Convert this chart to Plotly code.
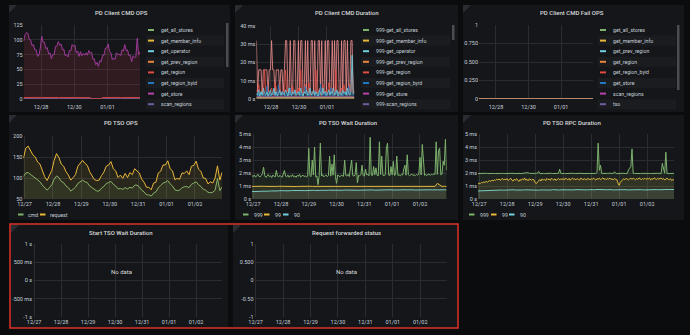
import pandas as pd
import plotly.graph_objects as go

# ---------------- data ----------------
START = "2021-12-26 23:00"
END = "2022-01-02 23:00"
T1 = pd.date_range(START, END, freq="1h")   # 169 hourly samples
T2 = pd.date_range(START, END, freq="2h")   # 85 two-hourly samples
TD = pd.date_range(START, END, freq="1D")   # 8 daily samples

TICKS_2D = ["2021-12-28", "2021-12-30", "2022-01-01"]
TICKS_1D = ["2021-12-27", "2021-12-28", "2021-12-29", "2021-12-30",
            "2021-12-31", "2022-01-01", "2022-01-02"]

# Panel 1: PD Client CMD OPS
cmd_ops_names = ["get_all_stores", "get_member_info", "get_operator", "get_prev_region",
                 "get_region", "get_region_byid", "get_store", "scan_regions"]
ops_get_store = [
    98, 109, 112, 111, 101, 100, 90, 92, 83, 83, 72, 74,
    86, 106, 96, 96, 85, 87, 76, 78, 68, 75, 75, 89,
    89, 97, 91, 93, 83, 84, 73, 75, 71, 82, 81, 92,
    89, 91, 78, 81, 72, 80, 73, 77, 74, 78, 74, 82,
    77, 79, 67, 68, 58, 62, 55, 65, 63, 74, 74, 86,
    86, 93, 80, 78, 66, 69, 67, 78, 75, 76, 73, 83,
    81, 92, 82, 83, 73, 74, 63, 73, 70, 71, 103, 75,
    80]
ops_get_region = [
    2.5, 2.6, 2.4, 2.7, 2.5, 2.6, 2.4, 2.5, 2.6, 2.5, 2.4, 2.6,
    2.7, 2.5, 2.6, 2.4, 2.5, 2.6, 2.5, 2.4, 2.6, 2.5, 2.7, 2.5,
    2.4, 2.6, 2.5, 2.5, 2.6, 2.4, 2.5, 2.6, 2.5, 2.4, 2.6, 2.5,
    2.5, 2.7, 2.4, 2.5, 2.6, 2.5, 2.4, 2.6, 2.5, 2.5, 2.6, 2.4,
    2.3, 0.4, 0.3, 0.4, 0.3, 0.4, 0.3, 0.3, 0.4, 2.5, 2.6, 2.5,
    2.4, 2.6, 2.5, 2.7, 2.5, 2.4, 2.6, 2.5, 2.5, 2.6, 2.4, 2.5,
    2.6, 2.5, 2.4, 2.6, 2.5, 2.7, 2.5, 2.4, 2.6, 2.5, 2.5, 2.6,
    2.5]
ops_get_all_stores = [0.1, 0.1, 0.1, 0.1, 0.1, 0.1, 0.1, 0.1]
ops_get_member_info = [0.2, 0.2, 0.2, 0.2, 0.2, 0.2, 0.2, 0.2]
ops_get_operator = [0.1, 0.1, 0.1, 0.1, 0.1, 0.1, 0.1, 0.1]
ops_get_prev_region = [0.5, 0.5, 0.5, 0.5, 0.5, 0.5, 0.5, 0.5]
ops_get_region_byid = [0.3, 0.3, 0.3, 0.3, 0.3, 0.3, 0.3, 0.3]
ops_scan_regions = [0.6, 0.6, 0.6, 0.6, 0.6, 0.6, 0.6, 0.6]

# Panel 2: PD Client CMD Duration (ms)
dur_names = ["999-get_all_stores", "999-get_member_info", "999-get_operator", "999-get_prev_region",
             "999-get_region", "999-get_region_byid", "999-get_store", "999-scan_regions"]
dur_tso = [
    32, 4, 16, 16, 16, 3, 16, 16, 16, 16, 4, 16,
    16, 32, 16, 16, 3, 16, 16, 16, 5, 16, 16, 3,
    16, 32, 32, 4, 3, 32, 5, 3, 32, 32, 4, 3,
    32, 4, 32, 32, 3, 4, 32, 5, 32, 3, 4, 32,
    32, 3, 32, 4, 3, 32, 32, 5, 32, 3, 4, 32,
    3, 32, 32, 4, 3, 32, 5, 32, 3, 32, 32, 4,
    3, 32, 4, 32, 32, 3, 32, 5, 3, 32, 32, 4,
    3]
dur_get_region = [
    5, 3, 8, 4, 3, 6, 2, 16, 4, 3, 5, 2,
    4, 6, 3, 2, 9, 5, 3, 4, 8, 3, 2, 5,
    3, 16, 4, 5, 2, 6, 3, 7, 4, 2, 5, 3,
    6, 3, 16, 4, 2, 5, 8, 3, 4, 9, 2, 4,
    3, 5, 2, 16, 4, 3, 6, 2, 5, 8, 3, 4,
    5, 2, 9, 3, 4, 6, 2, 3, 16, 5, 3, 4,
    2, 6, 3, 8, 4, 5, 2, 3, 8, 4, 16, 3,
    5]
dur_get_operator = [
    3, 2, 5, 1.5, 4, 2, 6, 3, 2, 4, 1.5, 3,
    5, 2, 3, 6, 2, 4, 1.5, 3, 5, 2, 4, 3,
    2, 5, 3, 1.5, 6, 3, 2, 4, 3, 5, 2, 3,
    4, 2, 6, 3, 1.5, 4, 3, 5, 2, 3, 6, 2,
    3, 5, 2, 4, 3, 1.5, 5, 3, 2, 6, 3, 4,
    2, 3, 5, 2, 4, 3, 6, 2, 3, 5, 1.5, 4,
    3, 2, 5, 3, 4, 2, 6, 3, 2, 4, 24, 3,
    4]
dur_get_region_byid = [
    2, 3.5, 1.5, 2.5, 4, 2, 3, 1.5, 2.5, 7, 2, 3.5,
    1.5, 3, 2.5, 4, 2, 3, 1.5, 8, 2.5, 3, 2, 4,
    3, 1.5, 2.5, 3.5, 2, 6, 1.5, 3, 2.5, 4, 2, 3,
    2.5, 4, 1.5, 3, 2, 3.5, 7, 2, 3, 1.5, 4, 2.5,
    2, 3, 4, 1.5, 2.5, 3, 2, 8, 3.5, 2, 3, 1.5,
    3.5, 2, 3, 2.5, 6, 1.5, 3, 2, 4, 2.5, 3, 2,
    2, 3.5, 1.5, 3, 2.5, 4, 2, 7, 3, 2.5, 3, 2,
    3]
dur_get_all_stores = [0.8, 0.8, 0.8, 0.8, 0.8, 0.8, 0.8, 0.8]
dur_get_member_info = [0.6, 0.6, 0.6, 0.6, 0.6, 0.6, 0.6, 0.6]
dur_get_prev_region = [1.0, 1.0, 1.0, 1.0, 1.0, 1.0, 1.0, 1.0]
dur_get_store = [1.2, 1.2, 1.2, 1.2, 1.2, 1.2, 1.2, 1.2]
dur_scan_regions = [0.9, 0.9, 0.9, 0.9, 0.9, 0.9, 0.9, 0.9]

# Panel 3: PD Client CMD Fail OPS
fail_names = ["get_all_stores", "get_member_info", "get_prev_region", "get_region",
              "get_region_byid", "get_store", "scan_regions", "tso"]
fail_zero = [0, 0, 0, 0, 0, 0, 0, 0]

# Panel 4: PD TSO OPS
tso_request = [
    147, 171, 176, 165, 155, 150, 138, 133, 116, 103, 94, 107,
    118, 142, 158, 149, 133, 128, 115, 107, 95, 101, 108, 128,
    134, 142, 135, 130, 115, 107, 96, 94, 95, 106, 114, 128,
    131, 139, 122, 117, 101, 107, 99, 111, 101, 113, 108, 122,
    118, 112, 97, 90, 78, 78, 72, 88, 90, 112, 116, 131,
    131, 141, 122, 117, 96, 99, 97, 112, 111, 117, 108, 128,
    130, 140, 121, 116, 100, 99, 86, 91, 88, 100, 129, 95,
    114]
tso_cmd = [
    103, 112, 113, 109, 103, 101, 95, 91, 83, 77, 71, 77,
    84, 97, 105, 101, 92, 89, 81, 77, 69, 73, 78, 87,
    90, 95, 91, 89, 81, 77, 71, 69, 69, 76, 80, 87,
    89, 92, 85, 81, 74, 75, 73, 77, 74, 78, 76, 83,
    83, 79, 71, 67, 60, 60, 57, 64, 67, 77, 82, 88,
    90, 94, 86, 81, 72, 70, 71, 77, 79, 80, 77, 85,
    88, 91, 84, 80, 73, 71, 66, 65, 66, 71, 99, 70,
    79]

# Panel 5: PD TSO Wait Duration (ms)
wait_999 = [
    1.80, 1.72, 1.85, 1.68, 1.78, 1.90, 1.75, 1.70, 1.82, 1.95, 2.45, 1.80,
    1.66, 1.74, 1.88, 1.72, 1.79, 1.65, 1.84, 1.76, 1.70, 2.20, 1.78, 1.69,
    1.83, 1.74, 1.68, 1.92, 2.20, 1.76, 1.71, 1.85, 1.67, 1.80, 1.73, 1.88,
    1.70, 1.78, 1.66, 1.82, 1.75, 1.90, 1.69, 1.77, 1.84, 1.72, 1.80, 1.68,
    1.75, 3.90, 1.80, 1.72, 3.00, 1.85, 4.00, 1.70, 1.78, 1.10, 1.82, 4.30,
    1.76, 1.88, 1.70, 1.79, 1.85, 1.72, 1.80, 3.30, 1.76, 2.70, 1.83, 3.40,
    1.74, 1.20, 1.86, 1.78, 1.70, 1.84, 1.80, 1.75, 3.00, 1.82, 1.77, 1.90,
    1.73, 2.60, 3.00, 1.80, 1.76, 1.85, 2.80, 1.25, 1.82, 1.78, 1.88, 2.60,
    1.80, 1.76, 2.30, 1.85, 1.90, 1.78, 4.75, 1.84, 1.80, 2.50, 1.86, 2.40,
    1.82, 1.78, 4.40, 1.88, 3.30, 1.83, 1.79, 1.86, 3.90, 4.30, 1.84, 1.80,
    2.50, 1.85, 2.90, 1.80, 1.88, 3.30, 1.82, 1.86, 1.78, 1.90, 1.84, 2.30,
    2.60, 1.83, 3.40, 1.87, 1.80, 1.85, 1.92, 1.81, 1.86, 1.79, 1.88, 1.84,
    1.90, 3.20, 1.85, 4.20, 2.50, 1.82, 1.88, 1.80, 1.92, 1.86, 1.84, 1.90,
    1.87, 1.95, 1.88, 4.40, 1.90, 3.70, 3.90, 1.86, 1.92, 2.90, 2.60, 4.60,
    2.20]
wait_99 = [
    0.97, 0.98, 0.97, 0.96, 0.97, 0.98, 0.97, 0.96, 0.97, 0.98, 0.97, 0.97,
    0.98, 0.97, 0.96, 0.97, 0.98, 0.97, 0.97, 0.96, 0.97, 0.98, 0.97, 0.96,
    0.97, 0.98, 0.97, 0.97, 0.96, 0.97, 0.98, 0.97, 0.96, 0.97, 0.98, 0.97,
    0.97, 0.96, 0.97, 0.98, 0.97, 0.97, 0.96, 0.97, 0.98, 0.97, 0.96, 0.97,
    0.98, 0.97, 0.97, 0.96, 0.97, 0.98, 0.97, 0.96, 0.97, 0.98, 0.97, 0.97,
    0.96, 0.97, 0.98, 0.97, 0.97, 0.96, 0.97, 0.98, 0.97, 0.96, 0.97, 0.98,
    0.97, 0.97, 0.96, 0.97, 0.98, 0.97, 0.96, 0.97, 1.20, 1.05, 0.97, 0.98,
    0.97]
wait_90 = [
    0.58, 0.57, 0.59, 0.58, 0.60, 0.59, 0.61, 0.60, 0.62, 0.61, 0.63, 0.62,
    0.64, 0.63, 0.65, 0.64, 0.63, 0.65, 0.66, 0.64, 0.65, 0.66, 0.65, 0.64,
    0.66, 0.65, 0.67, 0.66, 0.64, 0.66, 0.67, 0.65, 0.66, 0.68, 0.67, 0.66,
    0.67, 0.68, 0.66, 0.67, 0.69, 0.68, 0.67, 0.66, 0.68, 0.69, 0.67, 0.68,
    0.69, 0.68, 0.67, 0.69, 0.70, 0.68, 0.69, 0.71, 0.70, 0.68, 0.69, 0.70,
    0.71, 0.69, 0.70, 0.72, 0.70, 0.69, 0.71, 0.70, 0.72, 0.71, 0.69, 0.70,
    0.71, 0.72, 0.70, 0.71, 0.73, 0.71, 0.70, 0.72, 0.71, 0.70, 0.72, 0.71,
    0.70]

# Panel 6: PD TSO RPC Duration (ms)
rpc_999 = [
    1.96, 1.97, 1.96, 1.98, 1.97, 1.96, 1.97, 1.98, 1.96, 1.97, 1.97, 1.96,
    1.98, 1.97, 1.96, 1.97, 1.98, 1.97, 1.96, 1.97, 1.96, 1.98, 1.97, 1.96,
    1.97, 1.96, 1.98, 1.97, 1.96, 1.97, 1.98, 1.96, 1.97, 1.97, 1.96, 1.98,
    1.97, 1.96, 1.97, 1.98, 1.97, 1.96, 1.97, 2.03, 1.97, 1.96, 1.98, 1.97,
    1.96, 1.97, 1.98, 1.97, 2.12, 1.97, 1.96, 1.98, 1.97, 1.96, 1.97, 1.98,
    1.97, 1.96, 1.97, 1.98, 1.96, 1.97, 1.97, 1.96, 1.98, 1.97, 2.30, 1.97,
    1.96, 1.98, 1.97, 1.96, 1.97, 1.98, 1.97, 1.96, 1.97, 1.97, 1.98, 1.96,
    1.97, 1.98, 1.97, 1.96, 1.97, 1.98, 1.96, 1.97, 1.97, 1.96, 1.98, 1.97,
    1.96, 1.97, 1.98, 1.97, 1.96, 1.97, 2.05, 4.30, 2.20, 2.60, 1.97, 1.96,
    1.98, 1.97, 1.96, 1.97, 1.98, 1.97, 1.96, 1.97, 1.97, 2.10, 1.97, 1.96,
    1.97, 1.98, 1.96, 1.97, 1.97, 1.98, 1.96, 1.97, 1.98, 2.25, 2.35, 2.50,
    3.85, 1.98, 1.97, 1.96, 1.97, 1.98, 1.97, 1.96, 1.97, 1.98, 1.97, 1.96,
    1.97, 1.96, 1.98, 1.97, 1.96, 1.97, 1.98, 1.97, 1.96, 1.97, 1.98, 1.97,
    1.96, 1.97, 2.75, 2.20, 1.98, 3.60, 1.97, 1.96, 1.97, 1.98, 1.97, 1.96,
    1.97]
rpc_99 = [
    1.15, 1.22, 1.18, 1.28, 1.25, 1.32, 1.27, 1.35, 1.30, 1.38, 1.42, 1.36,
    1.45, 1.40, 1.48, 1.43, 1.52, 1.46, 1.55, 1.44, 1.50, 1.58, 1.47, 1.53,
    1.49, 1.56, 1.42, 1.51, 1.60, 1.46, 1.38, 1.52, 1.44, 1.57, 1.48, 1.35,
    1.50, 1.43, 1.55, 1.47, 1.62, 1.45, 1.52, 1.40, 1.56, 1.48, 1.44, 1.53,
    1.46, 1.25, 1.18, 1.30, 1.42, 1.50, 1.38, 1.55, 1.46, 1.52, 1.41, 1.58,
    1.49, 1.54, 1.44, 1.60, 1.51, 1.47, 1.56, 1.42, 1.53, 1.58, 1.48, 1.55,
    1.50, 1.57, 1.46, 1.62, 1.53, 1.48, 1.59, 1.44, 1.55, 1.61, 1.50, 1.56,
    1.47, 1.58, 1.52, 1.45, 1.60, 1.54, 1.49, 1.57, 1.51, 1.46, 1.59, 1.53,
    1.48, 1.56, 1.50, 1.62, 1.54, 1.45, 1.58, 1.52, 1.60, 1.49, 1.55, 1.63,
    1.51, 1.57, 1.48, 1.59, 1.53, 1.61, 1.50, 1.56, 1.46, 1.58, 1.52, 1.49,
    1.22, 1.05, 1.28, 1.42, 1.50, 1.56, 1.48, 1.59, 1.52, 1.47, 1.55, 1.60,
    1.52, 1.60, 1.54, 1.47, 1.58, 1.51, 1.62, 1.55, 1.49, 1.57, 1.53, 1.60,
    1.50, 1.58, 1.54, 1.61, 1.47, 1.56, 1.52, 1.63, 1.55, 1.49, 1.60, 1.53,
    1.57, 1.62, 1.51, 1.58, 1.46, 1.55, 1.60, 1.52, 1.48, 1.56, 1.42, 1.50,
    1.45]
rpc_90 = [
    0.62, 0.63, 0.65, 0.64, 0.66, 0.65, 0.67, 0.66, 0.68, 0.67, 0.69, 0.68,
    0.70, 0.68, 0.69, 0.71, 0.69, 0.68, 0.70, 0.69, 0.71, 0.70, 0.68, 0.69,
    0.70, 0.66, 0.68, 0.70, 0.69, 0.71, 0.70, 0.69, 0.72, 0.70, 0.71, 0.69,
    0.71, 0.70, 0.72, 0.71, 0.69, 0.70, 0.72, 0.71, 0.70, 0.72, 0.71, 0.70,
    0.72, 0.70, 0.71, 0.73, 0.71, 0.70, 0.72, 0.71, 0.73, 0.72, 0.70, 0.71,
    0.68, 0.71, 0.73, 0.72, 0.70, 0.71, 0.73, 0.72, 0.71, 0.73, 0.72, 0.70,
    0.72, 0.73, 0.71, 0.72, 0.74, 0.72, 0.71, 0.73, 0.72, 0.74, 0.73, 0.72,
    0.73]

# tick labels
P1_YV, P1_YT = [0, 25, 50, 75, 100, 125], ["0", "25", "50", "75", "100", "125"]
P2_YV, P2_YT = [0, 10, 20, 30, 40], ["0 s", "10 ms", "20 ms", "30 ms", "40 ms"]
P3_YV, P3_YT = [0, 0.25, 0.5, 0.75, 1], ["0", "0.250", "0.500", "0.750", "1"]
P4_YV, P4_YT = [50, 100, 150, 200], ["50", "100", "150", "200"]
MS_YV, MS_YT = [0, 1, 2, 3, 4, 5], ["0 s", "1 ms", "2 ms", "3 ms", "4 ms", "5 ms"]
P7_YV, P7_YT = [-1, -0.5, 0, 0.5, 1], ["-1 s", "-500 ms", "0 s", "500 ms", "1 s"]
P8_YV, P8_YT = [-1, -0.5, 0, 0.5, 1], ["-1", "-0.50", "0", "0.500", "1"]

# ---------------- styling ----------------
W, H = 690, 335
PAGE = "#0b0c0e"
PANEL = "#141619"
GRID = "#2a2c30"
TICK = "#c7d0d9"
TITLE = "#d8d9da"
FONT = "Roboto"
GREEN, YELLOW, CYAN, ORANGE = "#7eb26d", "#eab839", "#6ed0e0", "#ef843c"
RED, BLUE, PINK, PURPLE = "#e24d42", "#1f78c1", "#ba43a9", "#705da0"
SALMON = "#f29191"
PAL8 = [GREEN, YELLOW, CYAN, ORANGE, RED, BLUE, PINK, PURPLE]

fig = go.Figure()
shapes, annotations = [], []
layout = {}


def X(p):
    return p / W


def Y(p):
    return 1 - p / H


def rgba(c, a):
    c = c.lstrip("#")
    return "rgba(%d,%d,%d,%s)" % (int(c[0:2], 16), int(c[2:4], 16), int(c[4:6], 16), a)


def rect(x0, y0, x1, y1, fill, line=None, lw=0, layer="below"):
    shapes.append(dict(type="rect", xref="paper", yref="paper",
                       x0=X(x0), x1=X(x1), y0=Y(y1), y1=Y(y0),
                       fillcolor=fill, line=dict(color=line or fill, width=lw), layer=layer))


def text(x, y, s, size=5.2, color=TICK, anchor="left", weight="normal"):
    annotations.append(dict(x=X(x), y=Y(y), xref="paper", yref="paper", text=s, showarrow=False,
                            xanchor=anchor, yanchor="middle",
                            font=dict(family=FONT, size=size, color=color, weight=weight)))


def axes(n, x0, x1, ytop, ybot, yrange, yv, yt, xticks, xstand=0):
    s = "" if n == 1 else str(n)
    tf = dict(family=FONT, size=5.5, color=TICK)
    layout["xaxis" + s] = dict(domain=[X(x0), X(x1)], anchor="y" + s, type="date",
                               range=[START, END], tickmode="array", tickvals=xticks,
                               tickformat="%m/%d", showgrid=True, gridcolor=GRID, gridwidth=1,
                               zeroline=False, showline=False, ticks="", tickfont=tf,
                               ticklabelstandoff=xstand, automargin=False, fixedrange=True)
    layout["yaxis" + s] = dict(domain=[Y(ybot), Y(ytop)], anchor="x" + s, range=yrange,
                               tickmode="array", tickvals=yv, ticktext=yt, showgrid=True,
                               gridcolor=GRID, gridwidth=1, zeroline=False, showline=False,
                               ticks="", tickfont=tf, automargin=False, fixedrange=True)


def add(x, y, color, n, width=1.0, alpha=0.1, fillcolor=None):
    s = "" if n == 1 else str(n)
    fig.add_trace(go.Scatter(x=x, y=y, mode="lines", line=dict(color=color, width=width),
                             fill="tozeroy", fillcolor=fillcolor or rgba(color, alpha),
                             xaxis="x" + s, yaxis="y" + s, showlegend=False, hoverinfo="skip"))


# panels
PANELS = [(9, 5, 230, 112), (235, 5, 458, 112), (463, 5, 684, 112),
          (9, 115, 230, 220), (235, 115, 458, 220), (463, 115, 684, 220),
          (11, 225, 228, 327), (233, 225, 457, 327)]
for (a, b, c, d) in PANELS:
    rect(a, b, c, d, PANEL)
    shapes.append(dict(type="path", xref="paper", yref="paper", layer="below",
                       path="M %f,%f L %f,%f L %f,%f Z" % (X(a), Y(b), X(a + 8), Y(b), X(a), Y(b + 8)),
                       fillcolor="#2a2c31", line=dict(width=0)))
rect(10, 224, 458, 328, "rgba(0,0,0,0)", line="#e0352b", lw=1.5, layer="above")

# axes
axes(1, 23.7, 140, 25, 99, [0, 125], P1_YV, P1_YT, TICKS_2D, xstand=3)
axes(2, 256.4, 354.4, 26, 99, [0, 40], P2_YV, P2_YT, TICKS_2D, xstand=3)
axes(3, 479, 593, 25, 99, [0, 1], P3_YV, P3_YT, TICKS_2D, xstand=3)
axes(4, 23.4, 222.2, 136, 199, [50, 200], P4_YV, P4_YT, TICKS_1D)
axes(5, 252, 446.6, 134, 199, [0, 5], MS_YV, MS_YT, TICKS_1D)
axes(6, 478, 674, 134, 199, [0, 5], MS_YV, MS_YT, TICKS_1D)
axes(7, 33, 222, 244, 317, [-1, 1], P7_YV, P7_YT, TICKS_1D)
axes(8, 254.5, 446.5, 244, 317, [-1, 1], P8_YV, P8_YT, TICKS_1D)

# panel 1 traces
add(TD, ops_get_all_stores, GREEN, 1)
add(TD, ops_get_member_info, YELLOW, 1)
add(TD, ops_get_operator, CYAN, 1)
add(TD, ops_get_prev_region, ORANGE, 1)
add(TD, ops_get_region_byid, BLUE, 1)
add(TD, ops_scan_regions, PURPLE, 1)
add(T2, ops_get_region, RED, 1)
add(T2, ops_get_store, "#9e3b9a", 1, width=1.0, fillcolor="rgba(140,45,60,0.24)")

# panel 2 traces
add(TD, dur_get_all_stores, GREEN, 2, width=0.8)
add(TD, dur_get_prev_region, ORANGE, 2, width=0.8)
add(TD, dur_get_store, PINK, 2, width=0.8)
add(TD, dur_scan_regions, PURPLE, 2, width=0.8)
add(T2, dur_tso, SALMON, 2, width=0.8, alpha=0.08)
add(T2, dur_get_region, RED, 2, width=0.8, alpha=0.06)
add(T2, dur_get_region_byid, BLUE, 2, width=0.8)
add(T2, dur_get_operator, CYAN, 2, width=0.8)
add(TD, dur_get_member_info, YELLOW, 2, width=0.8)

# panel 3 traces
for c in [GREEN, CYAN, ORANGE, RED, BLUE, PINK, PURPLE]:
    add(TD, fail_zero, c, 3)
add(TD, fail_zero, YELLOW, 3, width=1.2)

# panel 4
add(T2, tso_cmd, GREEN, 4)
add(T2, tso_request, YELLOW, 4)

# panel 5
add(T2, wait_90, CYAN, 5)
add(T2, wait_99, YELLOW, 5)
add(T1, wait_999, GREEN, 5)

# panel 6
add(T2, rpc_90, CYAN, 6)
add(T1, rpc_99, YELLOW, 6)
add(T1, rpc_999, GREEN, 6)

# empty panels 7, 8
for n in (7, 8):
    fig.add_trace(go.Scatter(x=[], y=[], xaxis="x%d" % n, yaxis="y%d" % n, showlegend=False))

# titles
for (cx, cy, s) in [(121, 12.5, "PD Client CMD OPS"), (347, 12.5, "PD Client CMD Duration"),
                    (572, 12.5, "PD Client CMD Fail OPS"), (121, 122, "PD TSO OPS"),
                    (348, 122, "PD TSO Wait Duration"), (572, 122, "PD TSO RPC Duration"),
                    (121, 232, "Start TSO Wait Duration"), (347, 232, "Request forwarded status")]:
    text(cx, cy, s, size=6, color=TITLE, anchor="center", weight=500)

text(121, 271, "No data", size=6, color=TITLE, anchor="center")
text(347, 271, "No data", size=6, color=TITLE, anchor="center")

# right-side legends (panels 1-3)
ROWS = [30, 40.6, 51.2, 61.8, 72.4, 83, 93.6, 104.2]
for (sx, tx, sx0, sx1, names, scroll) in [
        (148, 159, 146, 224, cmd_ops_names, (226, 23, 228.5, 67)),
        (363, 374, 361, 450, dur_names, (452, 25, 454.5, 40)),
        (600, 611, 598, 676, fail_names, (677, 25, 679.5, 90))]:
    for k, yc in enumerate(ROWS):
        if k % 2 == 1:
            rect(sx0, yc - 5, sx1, yc + 5, "#1a1c20")
        rect(sx, yc - 1, sx + 6, yc + 1, PAL8[k], layer="above")
        text(tx, yc, names[k])
    rect(*scroll, "#4a4c52")

# bottom legends (panels 4-6)
LY = 214.5
for (sx, tx, c, s) in [(18, 25.5, GREEN, "cmd"), (40, 48, YELLOW, "request"),
                       (243, 251.5, GREEN, "999"), (264, 272.5, YELLOW, "99"), (283, 292, CYAN, "90"),
                       (469, 477.5, GREEN, "999"), (491, 499.5, YELLOW, "99"), (509, 517.5, CYAN, "90")]:
    rect(sx, LY - 1, sx + 5.5, LY + 1, c, layer="above")
    text(tx, LY, s)

layout.update(dict(width=W, height=H, margin=dict(l=0, r=0, t=0, b=0),
                   paper_bgcolor=PAGE, plot_bgcolor="rgba(0,0,0,0)",
                   showlegend=False, hovermode=False, template="none",
                   font=dict(family=FONT, color=TICK),
                   shapes=shapes, annotations=annotations))
fig.update_layout(**layout)
fig.write_html("out.html", include_plotlyjs=True, config={"displayModeBar": False})
